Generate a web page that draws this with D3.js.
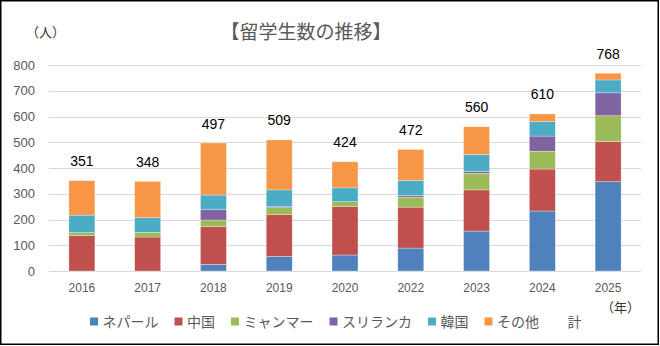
<!DOCTYPE html>
<html><head><meta charset="utf-8">
<script src="https://cdn.jsdelivr.net/npm/d3@7"></script>
<style>
html,body{margin:0;padding:0;background:#fff;}
svg{display:block;}
text{font-family:"Noto Sans CJK JP","Noto Sans",sans-serif;}
.num{font-family:"Liberation Sans","DejaVu Sans",sans-serif;}
</style></head>
<body>
<svg id="c" width="660" height="346"></svg>
<script>
const years = ["2016","2017","2018","2019","2020","2022","2023","2024","2025"];
const seriesNames = ["ネパール","中国","ミャンマー","スリランカ","韓国","その他"];
const nepal    = [0,   0,  26,  57,  62,  89, 155, 233, 347];
const china    = [137, 132, 146, 162, 189, 159, 160, 163, 156];
const myanmar  = [12,  18,  26,  27,  18,  39,  64,  69, 100];
const srilanka = [0,   0,   40,  4,   0,   7,   8,   59,  89];
const korea    = [68,  57,  57,  65,  54,  58,  65,  56,  50];
const other    = [134, 141, 202, 194, 101, 120, 108, 30,  26];
const totals   = [351, 348, 497, 509, 424, 472, 560, 610, 768];
const yTicks   = [0,100,200,300,400,500,600,700,800];
const colors   = ["#4F81BD","#C0504D","#9BBB59","#8064A2","#4BACC6","#F79646"];
const totalName = "計";

const seriesVals = [nepal, china, myanmar, srilanka, korea, other];
const rows = years.map((y,i)=>{ const r={year:y}; seriesNames.forEach((n,k)=>r[n]=seriesVals[k][i]); r.total=totals[i]; return r;});

const svg = d3.select("#c");
// outer border
svg.append("rect").attr("x",0.75).attr("y",0.75).attr("width",657.5).attr("height",343.5)
  .attr("fill","#fff").attr("stroke","#000").attr("stroke-width",1.5);

const x = d3.scaleBand().domain(years).range([49,641]).padding(0);
const y = d3.scaleLinear().domain([0,800]).range([271,65]);
const barW = x.bandwidth()*0.395;

// gridlines
svg.append("g").selectAll("line").data(yTicks).join("line")
  .attr("x1",49).attr("x2",641)
  .attr("y1",d=>Math.round(y(d))+0.5).attr("y2",d=>Math.round(y(d))+0.5)
  .attr("stroke","#D9D9D9").attr("stroke-width",1);

// y axis labels
const yAxis = d3.axisLeft(y).tickValues(yTicks).tickSize(0).tickPadding(0);
const gy = svg.append("g").attr("transform","translate(35,0)").call(yAxis);
gy.select(".domain").remove();
gy.selectAll("text").attr("class","num").attr("font-size",13).attr("fill","#595959");

// x axis labels
const xAxis = d3.axisBottom(x).tickSize(0).tickPadding(0);
const gx = svg.append("g").attr("transform","translate(0,283)").call(xAxis);
gx.select(".domain").remove();
gx.selectAll("text").attr("class","num").attr("font-size",12).attr("fill","#595959");

// stacked bars
const stack = d3.stack().keys(seriesNames)(rows);
svg.append("g").selectAll("g").data(stack).join("g")
  .attr("fill",(d,i)=>colors[i])
  .selectAll("rect").data(d=>d).join("rect")
  .attr("x",d=>x(d.data.year)+x.bandwidth()/2-barW/2)
  .attr("width",barW)
  .attr("y",d=>y(d[1]))
  .attr("height",d=>Math.max(0,y(d[0])-y(d[1])))
  .attr("stroke","#fff").attr("stroke-opacity",0.5).attr("stroke-width",0.6);

// total labels
svg.append("g").selectAll("text").data(rows).join("text")
  .attr("class","num")
  .attr("x",d=>x(d.year)+x.bandwidth()/2)
  .attr("y",d=>y(d.total)-14.5)
  .attr("text-anchor","middle").attr("font-size",14).attr("fill","#000")
  .text(d=>d.total);

// title and units
svg.append("text").attr("x",306).attr("y",39).attr("text-anchor","middle")
  .attr("font-size",19).attr("fill","#595959").text("【留学生数の推移】");
svg.append("text").attr("x",26).attr("y",37).attr("font-size",13).attr("fill","#333").text("（人）");
svg.append("text").attr("x",601).attr("y",312).attr("font-size",13).attr("fill","#333").text("（年）");

// legend
const legItems = seriesNames.map((n,i)=>({name:n,color:colors[i]})).concat([{name:totalName,color:null}]);
const leg = svg.append("g");
let lx = 90;
legItems.forEach(it=>{
  if(it.color) leg.append("rect").attr("x",lx).attr("y",317.5).attr("width",8).attr("height",8).attr("fill",it.color);
  const t = leg.append("text").attr("x",lx+12.5).attr("y",326.5).attr("font-size",14).attr("fill","#595959").text(it.name);
  lx += 12.5 + t.node().getComputedTextLength() + 16;
});
</script>
</body></html>
